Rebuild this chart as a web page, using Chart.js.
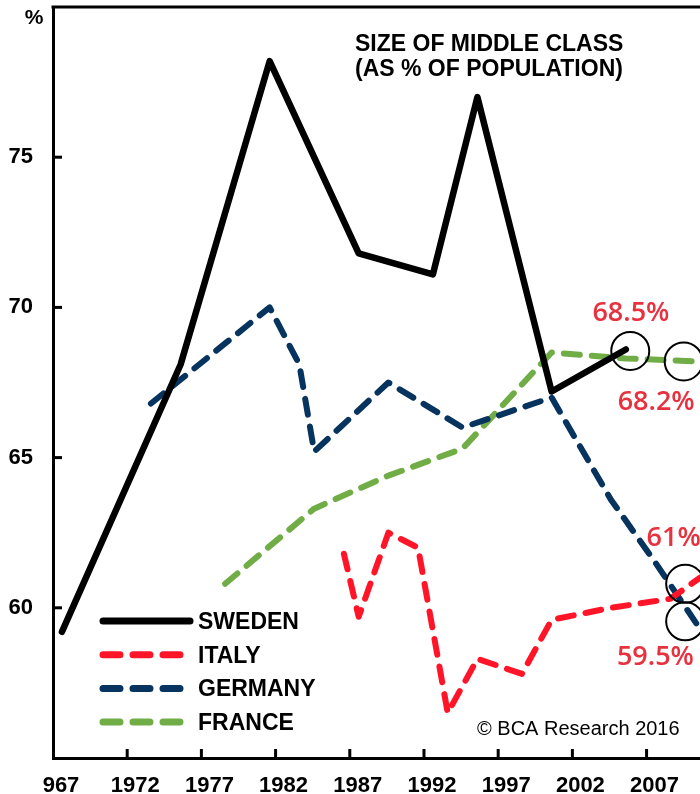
<!DOCTYPE html>
<html>
<head>
<meta charset="utf-8">
<script src="https://cdn.jsdelivr.net/npm/chart.js"></script>
<style>
  html, body { margin: 0; padding: 0; background: #fff; }
  #wrap { width: 700px; height: 794px; }
</style>
</head>
<body>
<div id="wrap"><canvas id="chart" width="700" height="794"></canvas></div>
<script>
// data (LIS survey years)
const swedenYears = [1967, 1975, 1981, 1987, 1992, 1995, 2000, 2005];
const swedenValues = [59.2, 68.1, 78.2, 71.8, 71.1, 77.0, 67.2, 68.6];

const italyYears = [1986, 1987, 1989, 1991, 1993, 1995, 1998, 2000, 2004, 2008, 2010];
const italyValues = [61.8, 59.7, 62.5, 62.0, 56.5, 58.3, 57.8, 59.6, 60.0, 60.3, 61.0];

const germanyYears = [1973, 1978, 1981, 1983, 1984, 1989, 1994, 2000, 2004, 2007, 2010];
const germanyValues = [66.8, 68.8, 70.0, 68.1, 65.2, 67.5, 66.0, 67.0, 63.6, 61.5, 59.3];

const franceYears = [1978, 1984, 1989, 1994, 2000, 2005, 2010];
const franceValues = [60.8, 63.3, 64.4, 65.3, 68.5, 68.3, 68.2];

const xTickYears = [1967, 1972, 1977, 1982, 1987, 1992, 1997, 2002, 2007];
const xTickLabels = ["967", "1972", "1977", "1982", "1987", "1992", "1997", "2002", "2007"];
const yTickValues = [60, 65, 70, 75];

// highlighted end points and their labels
const circledPoints = [
  { x: 2005.3, y: 68.55 },
  { x: 2008.9, y: 68.2 },
  { x: 2009, y: 60.8 },
  { x: 2009, y: 59.55 },
];
const callouts = [
  { text: "68.5%", x: 2002.75, y: 69.8 },
  { text: "68.2%", x: 2004.45, y: 66.85 },
  { text: "61%", x: 2006.4, y: 62.3 },
  { text: "59.5%", x: 2004.4, y: 58.35 },
];

const FONT = "'Liberation Sans', Arial, sans-serif";
const RED_TEXT = "#e8313f";

const toPoints = (years, values) => years.map((y, i) => ({ x: y, y: values[i] }));

const series = [
  { label: "SWEDEN", data: toPoints(swedenYears, swedenValues), color: "#000000", dash: [] },
  { label: "ITALY", data: toPoints(italyYears, italyValues), color: "#ff1428", dash: [16, 12] },
  { label: "GERMANY", data: toPoints(germanyYears, germanyValues), color: "#06345f", dash: [16, 12] },
  { label: "FRANCE", data: toPoints(franceYears, franceValues), color: "#70ad47", dash: [16, 12] },
];

const noPadding = (scale) => {
  scale.paddingTop = 0;
  scale.paddingBottom = 0;
  scale.paddingLeft = 0;
  scale.paddingRight = 0;
};

const decorations = {
  id: "decorations",
  afterDraw(chart) {
    const { ctx, chartArea, scales } = chart;
    const { x, y } = scales;
    ctx.save();

    // top frame
    ctx.strokeStyle = "#000";
    ctx.lineWidth = 3;
    ctx.beginPath();
    ctx.moveTo(chartArea.left - 1.5, chartArea.top);
    ctx.lineTo(chartArea.right + 2, chartArea.top);
    ctx.stroke();

    // inward tick marks
    x.ticks.forEach((t) => {
      const px = x.getPixelForValue(t.value);
      if (px < chartArea.left + 3) return;
      ctx.beginPath();
      ctx.moveTo(px, chartArea.bottom);
      ctx.lineTo(px, chartArea.bottom - 9);
      ctx.stroke();
    });
    y.ticks.forEach((t) => {
      const py = y.getPixelForValue(t.value);
      ctx.beginPath();
      ctx.moveTo(chartArea.left, py);
      ctx.lineTo(chartArea.left + 9, py);
      ctx.stroke();
    });

    // unit and title
    ctx.fillStyle = "#000";
    ctx.font = "bold 21px " + FONT;
    ctx.textAlign = "center";
    ctx.textBaseline = "alphabetic";
    ctx.fillText("%", 34, 24);
    ctx.textAlign = "left";
    ctx.font = "bold 23px " + FONT;
    ctx.fillText("SIZE OF MIDDLE CLASS", 355, 51);
    ctx.fillText("(AS % OF POPULATION)", 355, 76);

    // circles
    ctx.lineWidth = 2;
    ctx.strokeStyle = "#000";
    circledPoints.forEach((p) => {
      ctx.beginPath();
      ctx.arc(x.getPixelForValue(p.x), y.getPixelForValue(p.y), 19, 0, Math.PI * 2);
      ctx.stroke();
    });

    // callouts
    ctx.fillStyle = RED_TEXT;
    ctx.font = "600 27px 'Open Sans', 'Noto Sans', sans-serif";
    ctx.textBaseline = "middle";
    callouts.forEach((c) => {
      ctx.fillText(c.text, x.getPixelForValue(c.x), y.getPixelForValue(c.y));
    });

    // legend
    const legendTop = 621;
    const rowGap = 33.7;
    chart.data.datasets.forEach((ds, i) => {
      const cy = legendTop + i * rowGap;
      ctx.strokeStyle = ds.borderColor;
      ctx.lineWidth = 7;
      ctx.lineCap = "round";
      ctx.setLineDash(ds.borderDash && ds.borderDash.length ? [17, 13] : []);
      ctx.beginPath();
      ctx.moveTo(103, cy);
      ctx.lineTo(190, cy);
      ctx.stroke();
      ctx.setLineDash([]);
      ctx.fillStyle = "#000";
      ctx.font = "bold 23px " + FONT;
      ctx.textBaseline = "alphabetic";
      ctx.fillText(ds.label, 198, cy + 8);
    });

    // source
    ctx.font = "20px " + FONT;
    ctx.fillStyle = "#000";
    ctx.fillText("\u00A9 BCA Research 2016", 477, 735);
    ctx.restore();
  },
};

new Chart(document.getElementById("chart"), {
  type: "line",
  data: {
    datasets: series.map((s) => ({
      label: s.label,
      data: s.data,
      borderColor: s.color,
      backgroundColor: s.color,
      borderWidth: s.dash.length ? 6 : 6.5,
      borderDash: s.dash,
      borderCapStyle: "round",
      borderJoinStyle: "round",
      pointRadius: 0,
      tension: 0,
      fill: false,
    })),
  },
  options: {
    responsive: false,
    animation: false,
    layout: { padding: { top: 7, left: 0, right: 0, bottom: 0 } },
    plugins: {
      legend: { display: false },
      tooltip: { enabled: false },
    },
    scales: {
      x: {
        type: "linear",
        min: 1966.4,
        max: 2010,
        afterFit: (scale) => { scale.height = 36; noPadding(scale); },
        afterBuildTicks: (scale) => {
          scale.ticks = xTickYears.map((yr) => ({ value: yr - 0.6 }));
        },
        grid: { display: false, drawTicks: false },
        border: { display: true, color: "#000", width: 3 },
        ticks: {
          autoSkip: false,
          maxRotation: 0,
          padding: 15,
          labelOffset: 8,
          color: "#000",
          font: { family: FONT, size: 22, weight: "bold" },
          callback: (value, index) => xTickLabels[index],
        },
      },
      y: {
        min: 55,
        max: 80,
        afterFit: (scale) => { scale.width = 53; noPadding(scale); },
        afterBuildTicks: (scale) => {
          scale.ticks = yTickValues.map((v) => ({ value: v }));
        },
        grid: { display: false, drawTicks: false },
        border: { display: true, color: "#000", width: 3 },
        ticks: {
          padding: 20,
          color: "#000",
          font: { family: FONT, size: 22, weight: "bold" },
          callback: (value) => String(value),
        },
      },
    },
  },
  plugins: [decorations],
});
</script>
</body>
</html>
